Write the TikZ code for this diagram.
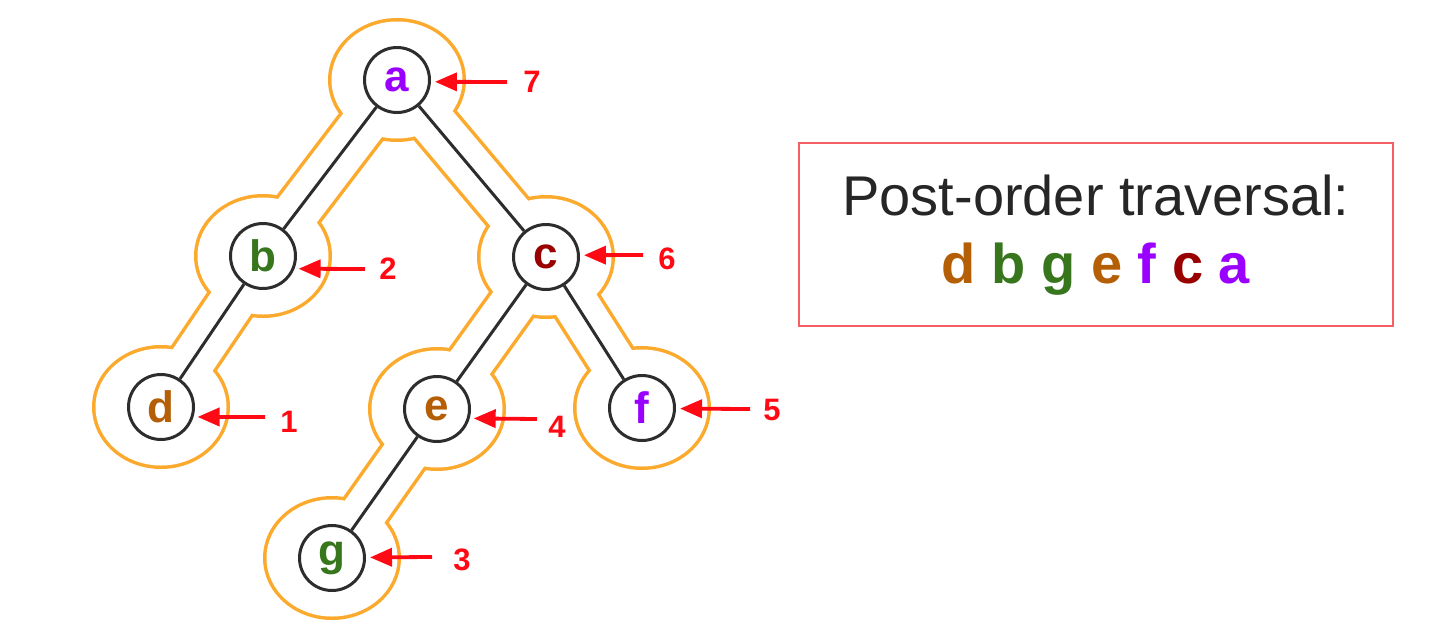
\documentclass[tikz,border=0pt]{standalone}
\usepackage{fontspec}
\setmainfont{Liberation Sans}
\usetikzlibrary{arrows.meta}
\pgfdeclarelayer{bg}
\pgfsetlayers{bg,main}
\definecolor{ornc}{RGB}{252,170,45}
\definecolor{brownc}{RGB}{180,95,6}
\definecolor{greenc}{RGB}{56,118,29}
\definecolor{purplec}{RGB}{153,0,255}
\definecolor{darkredc}{RGB}{153,0,0}
\definecolor{arrred}{RGB}{255,10,20}
\definecolor{boxred}{RGB}{245,95,100}
\definecolor{edgegray}{RGB}{45,45,45}
\begin{document}
\begin{tikzpicture}[x=0.5pt,y=-0.5pt,
  tnode/.style={circle, draw=edgegray, line width=1.5pt, fill=white, minimum size=32.5pt, inner sep=0pt, font=\fontsize{22}{26}\selectfont\bfseries},
  tedge/.style={draw=edgegray, line width=1.5pt},
  arr/.style={draw=arrred, line width=1.9pt, shorten >=2pt, -{Triangle[length=11pt,width=9pt]}},
  num/.style={text=arrred, font=\fontsize{15.5}{18}\selectfont\bfseries, inner sep=0pt},
  orangeout/.style={fill=ornc},
  whitein/.style={fill=white},
  ostrip/.style={draw=ornc, line width=26pt},
  wstrip/.style={draw=white, line width=22.5pt},
  boxstyle/.style={draw=boxred, line width=1.2pt, minimum width=297pt, minimum height=91.5pt, inner sep=0pt},
  title/.style={font=\fontsize{28}{34}\selectfont, text=black!85, inner sep=0pt},
  seq/.style={font=\fontsize{28}{34}\selectfont\bfseries, inner sep=0pt}]
\useasboundingbox (0,0) rectangle (1440,627);
% tree nodes
\node[tnode, text=purplec] (a) at (397,80) {a};
\node[tnode, text=greenc] (b) at (263,256) {b};
\node[tnode, text=darkredc] (c) at (546,257) {c};
\node[tnode, text=brownc] (d) at (161,407) {d};
\node[tnode, text=brownc] (e) at (437,409) {e};
\node[tnode, text=purplec] (f) at (642,408) {f};
\node[tnode, text=greenc] (g) at (332,558) {g};
% edges
\draw[tedge] (a) -- (b);
\draw[tedge] (a) -- (c);
\draw[tedge] (b) -- (d);
\draw[tedge] (c) -- (e);
\draw[tedge] (c) -- (f);
\draw[tedge] (e) -- (g);
% orange contour (union outline)
\begin{pgfonlayer}{bg}
  \foreach \n in {a,b,c,d,e,f,g}
    \fill[orangeout] (\n.center) ellipse[x radius=69, y radius=62];
  \draw[ostrip] (a.center) -- (b.center);
  \draw[ostrip] (a.center) -- (c.center);
  \draw[ostrip] (b.center) -- (d.center);
  \draw[ostrip] (c.center) -- (e.center);
  \draw[ostrip] (c.center) -- (f.center);
  \draw[ostrip] (e.center) -- (g.center);
  \foreach \n in {a,b,c,d,e,f,g}
    \fill[whitein] (\n.center) ellipse[x radius=65.5, y radius=58.5];
  \draw[wstrip] (a.center) -- (b.center);
  \draw[wstrip] (a.center) -- (c.center);
  \draw[wstrip] (b.center) -- (d.center);
  \draw[wstrip] (c.center) -- (e.center);
  \draw[wstrip] (c.center) -- (f.center);
  \draw[wstrip] (e.center) -- (g.center);
\end{pgfonlayer}
% order arrows
\coordinate (t7) at (507,82);
\coordinate (t2) at (365,269);
\coordinate (t1) at (265,417);
\coordinate (t6) at (643,255);
\coordinate (t4) at (537,419);
\coordinate (t5) at (750,409);
\coordinate (t3) at (432,557);
\draw[arr] (t7) -- (a.-3);
\draw[arr] (t2) -- (b.-22);
\draw[arr] (t1) -- (d.-17);
\draw[arr] (t6) -- (c.3);
\draw[arr] (t4) -- (e.-16);
\draw[arr] (t5) -- (f.-1);
\draw[arr] (t3) -- (g.1);
\node[num] (l7) at (532,82) {7};
\node[num] (l2) at (388,269) {2};
\node[num] (l1) at (289,422) {1};
\node[num] (l6) at (667,259) {6};
\node[num] (l4) at (557,427) {4};
\node[num] (l5) at (772,410) {5};
\node[num] (l3) at (462,560) {3};
% result box
\node[boxstyle] (box) at (1096,234.5) {};
\node[title, anchor=base] (ttl) at (1096,215) {Post-order traversal:};
\node[seq, anchor=base] (sq) at (1096,283) {\textcolor{brownc}{d} \textcolor{greenc}{b} \textcolor{greenc}{g} \textcolor{brownc}{e} \textcolor{purplec}{f} \textcolor{darkredc}{c} \textcolor{purplec}{a}};
\end{tikzpicture}
\end{document}
